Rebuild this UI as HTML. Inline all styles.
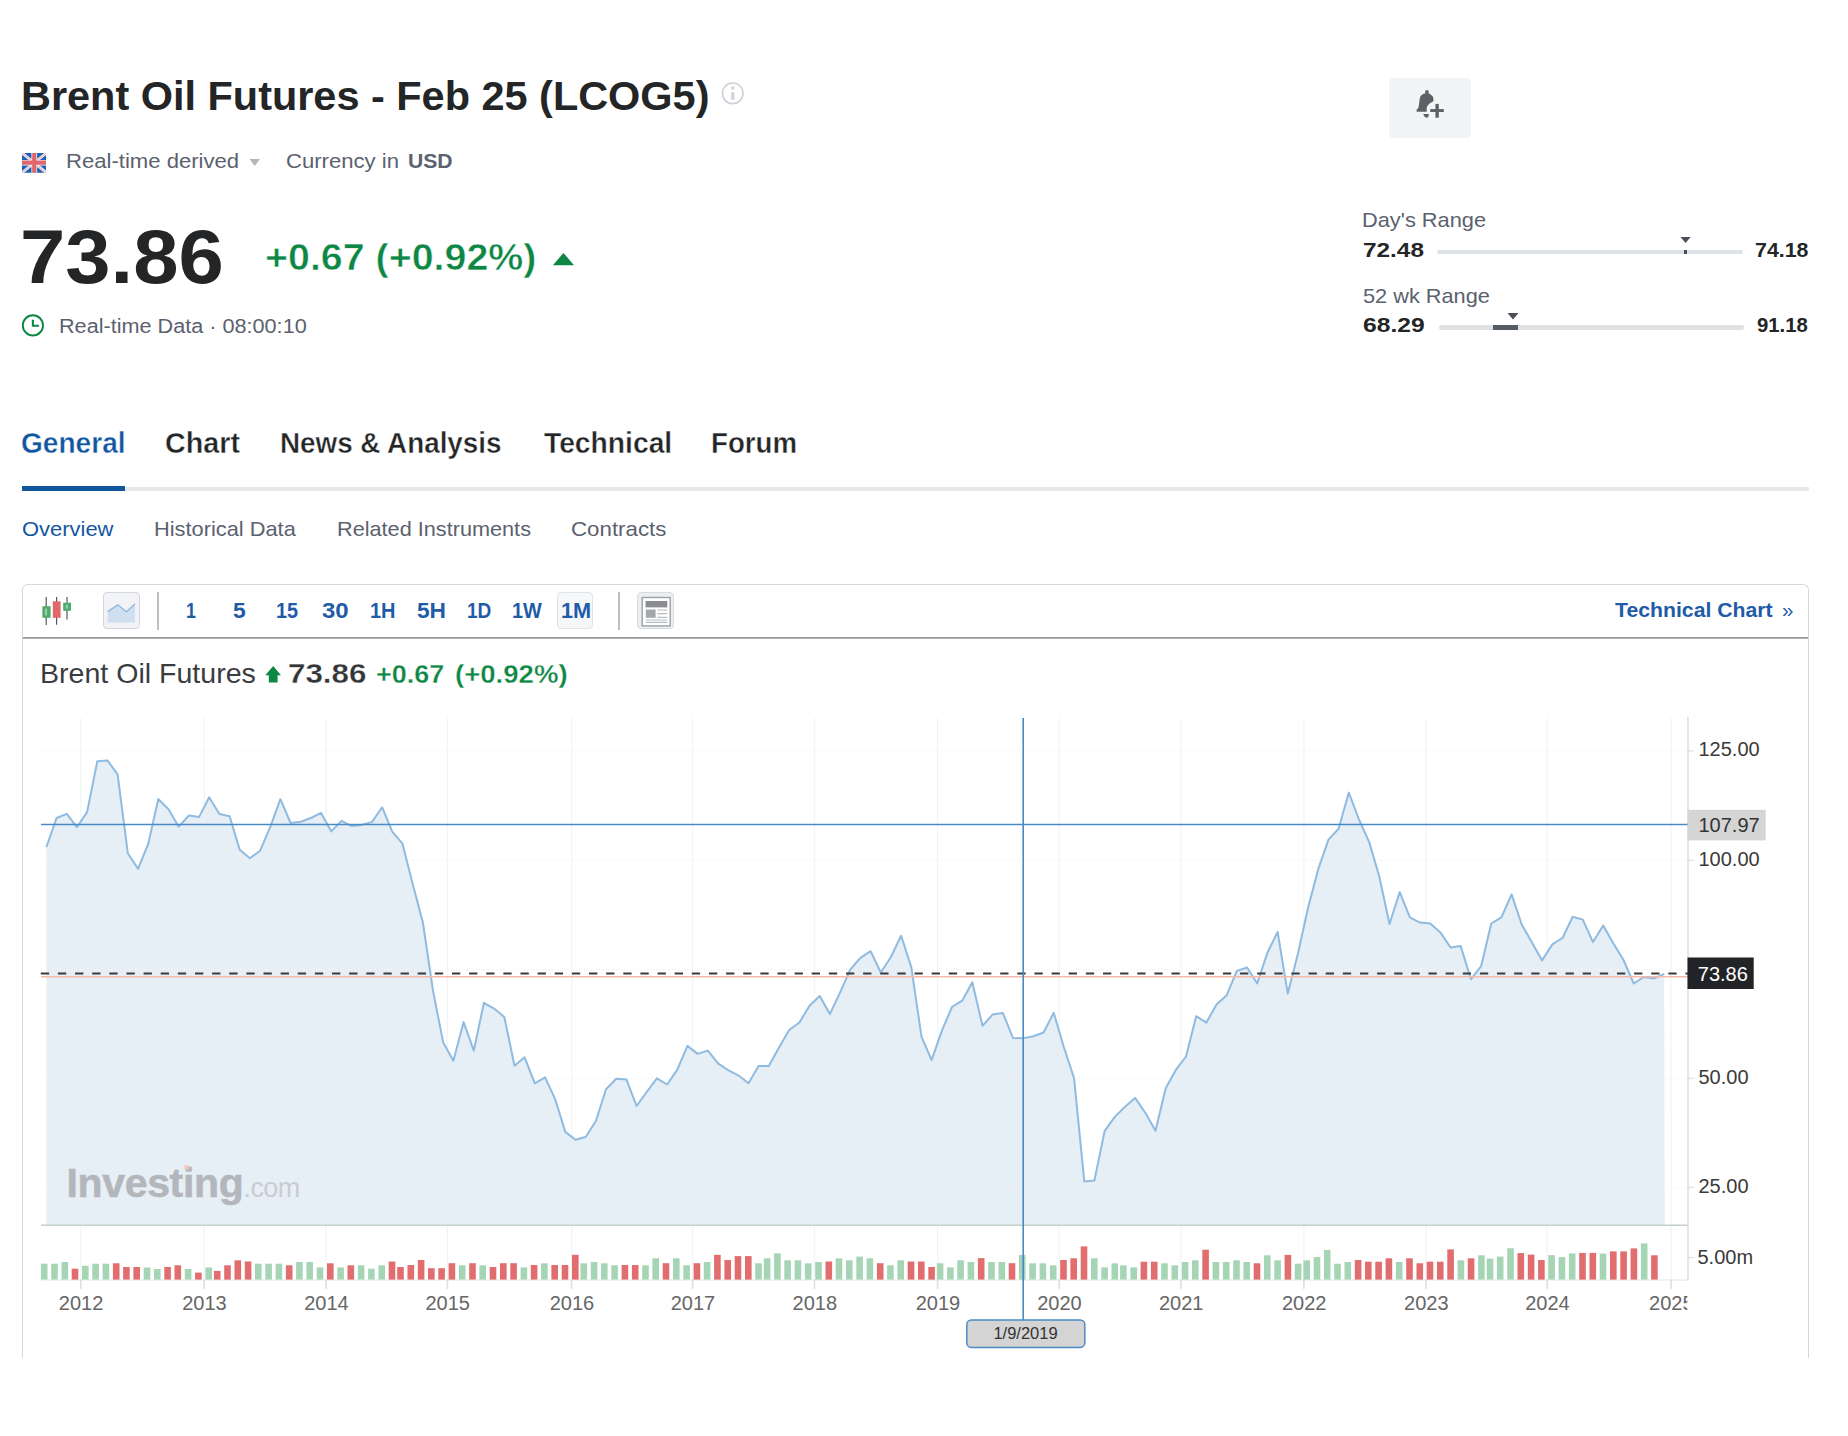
<!DOCTYPE html>
<html><head><meta charset="utf-8"><title>Brent Oil Futures</title>
<style>
html,body{margin:0;padding:0;background:#fff}
body{width:1848px;height:1436px;position:relative;overflow:hidden;font-family:"Liberation Sans",sans-serif}
.t{position:absolute;white-space:nowrap;line-height:1;font-family:"Liberation Sans",sans-serif}
.a{position:absolute;display:block}
</style></head><body>
<svg id="ch" width="1848" height="1436" viewBox="0 0 1848 1436" style="position:absolute;left:0;top:0">
<polygon points="46.4,1225.3 46.4,847 56.6,818 66.8,813.8 76.9,827.2 87.1,812.1 97.3,761.3 107.5,760.4 117.6,774.4 127.8,853.2 138,868.8 148.2,844 158.3,799 168.5,809.3 178.7,826.7 188.9,815.5 199,817.1 209.2,797.3 219.4,814.1 229.6,816.3 239.7,849.8 249.9,858.2 260.1,850.7 270.2,827.2 280.4,799.2 290.6,823 300.8,821.8 310.9,818 321.1,812.9 331.3,831.4 341.5,820.9 351.6,826.1 361.8,824.9 372,821.9 382.2,807.3 392.4,831.9 402.5,843.7 412.7,883.9 422.9,922.5 433.1,991.2 443.2,1042.6 453.4,1060.7 463.6,1022.1 473.8,1050.6 483.9,1002.8 494.1,1008.6 504.3,1017 514.5,1065.7 524.6,1057.3 534.8,1083.3 545,1077.4 555.2,1099.2 565.3,1131.9 575.5,1139.8 585.7,1137 595.9,1121 606,1089.2 616.2,1078.8 626.4,1079.4 636.6,1106 646.7,1092 656.9,1078.3 667.1,1084.5 677.2,1069.9 687.4,1045.9 697.6,1053.9 707.8,1050.6 718,1063.4 728.1,1070.1 738.3,1075.3 748.5,1083.2 758.6,1066.1 768.8,1066.1 779,1047.6 789.2,1030 799.4,1022.5 809.5,1005.7 819.7,996 829.9,1014.1 840.1,992.3 850.2,969.6 860.4,957.9 870.6,951.2 880.8,972.5 890.9,957 901.1,935.7 911.3,967.1 921.5,1036.7 931.6,1060.2 941.8,1030.9 952,1007 962.2,1000.7 972.3,982.2 982.5,1025.8 992.7,1014.4 1002.9,1013 1013,1038 1023.2,1038.3 1033.4,1036.3 1043.6,1032.5 1053.7,1012.8 1063.9,1047.2 1074.1,1078.3 1084.3,1181.4 1094.4,1180.6 1104.6,1131.1 1114.8,1116.9 1125,1106.8 1135.1,1097.9 1145.3,1112.7 1155.5,1130.8 1165.7,1088.3 1175.8,1069.9 1186,1056.5 1196.2,1016.2 1206.4,1022.6 1216.5,1004.5 1226.7,995.2 1236.9,970.9 1247.1,967.5 1257.2,983.5 1267.4,952.8 1277.6,931.9 1287.8,993.6 1297.9,953.7 1308.1,907.5 1318.3,868.9 1328.5,839.6 1338.6,828.7 1348.8,792.6 1359,819.5 1369.2,842.1 1379.3,876.5 1389.5,924 1399.7,892.1 1409.9,917.3 1420,922.6 1430.2,923.5 1440.4,932.4 1450.6,947.5 1460.7,946.1 1470.9,979.3 1481.1,966.2 1491.3,923.5 1501.4,917.3 1511.6,894.4 1521.8,924.8 1532,942.5 1542.1,960.4 1552.3,944.4 1562.5,938 1572.7,916.8 1582.8,919.6 1593,942.1 1603.2,925.5 1613.4,943.5 1623.5,960 1633.7,983.5 1643.9,977 1654.1,978.4 1664.2,973.8 1664.7,1225.3" fill="rgba(70,130,190,0.135)"/>
<line x1="80.8" y1="718.0" x2="80.8" y2="1279.6" stroke="rgba(236,240,240,0.75)" stroke-width="1.2"/>
<line x1="204.2" y1="718.0" x2="204.2" y2="1279.6" stroke="rgba(236,240,240,0.75)" stroke-width="1.2"/>
<line x1="326.1" y1="718.0" x2="326.1" y2="1279.6" stroke="rgba(236,240,240,0.75)" stroke-width="1.2"/>
<line x1="447.4" y1="718.0" x2="447.4" y2="1279.6" stroke="rgba(236,240,240,0.75)" stroke-width="1.2"/>
<line x1="571.6" y1="718.0" x2="571.6" y2="1279.6" stroke="rgba(236,240,240,0.75)" stroke-width="1.2"/>
<line x1="692.6" y1="718.0" x2="692.6" y2="1279.6" stroke="rgba(236,240,240,0.75)" stroke-width="1.2"/>
<line x1="814.5" y1="718.0" x2="814.5" y2="1279.6" stroke="rgba(236,240,240,0.75)" stroke-width="1.2"/>
<line x1="937.6" y1="718.0" x2="937.6" y2="1279.6" stroke="rgba(236,240,240,0.75)" stroke-width="1.2"/>
<line x1="1059.2" y1="718.0" x2="1059.2" y2="1279.6" stroke="rgba(236,240,240,0.75)" stroke-width="1.2"/>
<line x1="1180.9" y1="718.0" x2="1180.9" y2="1279.6" stroke="rgba(236,240,240,0.75)" stroke-width="1.2"/>
<line x1="1303.9" y1="718.0" x2="1303.9" y2="1279.6" stroke="rgba(236,240,240,0.75)" stroke-width="1.2"/>
<line x1="1426.0" y1="718.0" x2="1426.0" y2="1279.6" stroke="rgba(236,240,240,0.75)" stroke-width="1.2"/>
<line x1="1547.2" y1="718.0" x2="1547.2" y2="1279.6" stroke="rgba(236,240,240,0.75)" stroke-width="1.2"/>
<line x1="1671.0" y1="718.0" x2="1671.0" y2="1279.6" stroke="rgba(236,240,240,0.75)" stroke-width="1.2"/>
<line x1="41.0" y1="750.9" x2="1688.0" y2="750.9" stroke="rgba(240,242,244,0.8)" stroke-width="1" stroke-dasharray="1.500 1"/>
<line x1="1688.0" y1="750.9" x2="1694.0" y2="750.9" stroke="#dadde0" stroke-width="1"/>
<line x1="41.0" y1="860.3" x2="1688.0" y2="860.3" stroke="rgba(240,242,244,0.8)" stroke-width="1" stroke-dasharray="1.500 1"/>
<line x1="1688.0" y1="860.3" x2="1694.0" y2="860.3" stroke="#dadde0" stroke-width="1"/>
<line x1="41.0" y1="969.6" x2="1688.0" y2="969.6" stroke="rgba(240,242,244,0.8)" stroke-width="1" stroke-dasharray="1.500 1"/>
<line x1="1688.0" y1="969.6" x2="1694.0" y2="969.6" stroke="#dadde0" stroke-width="1"/>
<line x1="41.0" y1="1078.3" x2="1688.0" y2="1078.3" stroke="rgba(240,242,244,0.8)" stroke-width="1" stroke-dasharray="1.500 1"/>
<line x1="1688.0" y1="1078.3" x2="1694.0" y2="1078.3" stroke="#dadde0" stroke-width="1"/>
<line x1="41.0" y1="1187.4" x2="1688.0" y2="1187.4" stroke="rgba(240,242,244,0.8)" stroke-width="1" stroke-dasharray="1.500 1"/>
<line x1="1688.0" y1="1187.4" x2="1694.0" y2="1187.4" stroke="#dadde0" stroke-width="1"/>
<polyline points="46.4,847 56.6,818 66.8,813.8 76.9,827.2 87.1,812.1 97.3,761.3 107.5,760.4 117.6,774.4 127.8,853.2 138,868.8 148.2,844 158.3,799 168.5,809.3 178.7,826.7 188.9,815.5 199,817.1 209.2,797.3 219.4,814.1 229.6,816.3 239.7,849.8 249.9,858.2 260.1,850.7 270.2,827.2 280.4,799.2 290.6,823 300.8,821.8 310.9,818 321.1,812.9 331.3,831.4 341.5,820.9 351.6,826.1 361.8,824.9 372,821.9 382.2,807.3 392.4,831.9 402.5,843.7 412.7,883.9 422.9,922.5 433.1,991.2 443.2,1042.6 453.4,1060.7 463.6,1022.1 473.8,1050.6 483.9,1002.8 494.1,1008.6 504.3,1017 514.5,1065.7 524.6,1057.3 534.8,1083.3 545,1077.4 555.2,1099.2 565.3,1131.9 575.5,1139.8 585.7,1137 595.9,1121 606,1089.2 616.2,1078.8 626.4,1079.4 636.6,1106 646.7,1092 656.9,1078.3 667.1,1084.5 677.2,1069.9 687.4,1045.9 697.6,1053.9 707.8,1050.6 718,1063.4 728.1,1070.1 738.3,1075.3 748.5,1083.2 758.6,1066.1 768.8,1066.1 779,1047.6 789.2,1030 799.4,1022.5 809.5,1005.7 819.7,996 829.9,1014.1 840.1,992.3 850.2,969.6 860.4,957.9 870.6,951.2 880.8,972.5 890.9,957 901.1,935.7 911.3,967.1 921.5,1036.7 931.6,1060.2 941.8,1030.9 952,1007 962.2,1000.7 972.3,982.2 982.5,1025.8 992.7,1014.4 1002.9,1013 1013,1038 1023.2,1038.3 1033.4,1036.3 1043.6,1032.5 1053.7,1012.8 1063.9,1047.2 1074.1,1078.3 1084.3,1181.4 1094.4,1180.6 1104.6,1131.1 1114.8,1116.9 1125,1106.8 1135.1,1097.9 1145.3,1112.7 1155.5,1130.8 1165.7,1088.3 1175.8,1069.9 1186,1056.5 1196.2,1016.2 1206.4,1022.6 1216.5,1004.5 1226.7,995.2 1236.9,970.9 1247.1,967.5 1257.2,983.5 1267.4,952.8 1277.6,931.9 1287.8,993.6 1297.9,953.7 1308.1,907.5 1318.3,868.9 1328.5,839.6 1338.6,828.7 1348.8,792.6 1359,819.5 1369.2,842.1 1379.3,876.5 1389.5,924 1399.7,892.1 1409.9,917.3 1420,922.6 1430.2,923.5 1440.4,932.4 1450.6,947.5 1460.7,946.1 1470.9,979.3 1481.1,966.2 1491.3,923.5 1501.4,917.3 1511.6,894.4 1521.8,924.8 1532,942.5 1542.1,960.4 1552.3,944.4 1562.5,938 1572.7,916.8 1582.8,919.6 1593,942.1 1603.2,925.5 1613.4,943.5 1623.5,960 1633.7,983.5 1643.9,977 1654.1,978.4 1664.2,973.8" fill="none" stroke="#8fbbe0" stroke-width="2" stroke-linejoin="round"/>
<line x1="41.0" y1="1225.3" x2="1688.0" y2="1225.3" stroke="#c3d0cc" stroke-width="1.6"/>
<line x1="41.0" y1="1280.0" x2="1688.0" y2="1280.0" stroke="#e3e5e8" stroke-width="1.2"/>
<line x1="1688.0" y1="717.0" x2="1688.0" y2="1280.6" stroke="#d5d8dc" stroke-width="1.3"/>
<line x1="80.8" y1="1279.6" x2="80.8" y2="1289.1" stroke="#dcdfe3" stroke-width="1.6"/>
<line x1="204.2" y1="1279.6" x2="204.2" y2="1289.1" stroke="#dcdfe3" stroke-width="1.6"/>
<line x1="326.1" y1="1279.6" x2="326.1" y2="1289.1" stroke="#dcdfe3" stroke-width="1.6"/>
<line x1="447.4" y1="1279.6" x2="447.4" y2="1289.1" stroke="#dcdfe3" stroke-width="1.6"/>
<line x1="571.6" y1="1279.6" x2="571.6" y2="1289.1" stroke="#dcdfe3" stroke-width="1.6"/>
<line x1="692.6" y1="1279.6" x2="692.6" y2="1289.1" stroke="#dcdfe3" stroke-width="1.6"/>
<line x1="814.5" y1="1279.6" x2="814.5" y2="1289.1" stroke="#dcdfe3" stroke-width="1.6"/>
<line x1="937.6" y1="1279.6" x2="937.6" y2="1289.1" stroke="#dcdfe3" stroke-width="1.6"/>
<line x1="1059.2" y1="1279.6" x2="1059.2" y2="1289.1" stroke="#dcdfe3" stroke-width="1.6"/>
<line x1="1180.9" y1="1279.6" x2="1180.9" y2="1289.1" stroke="#dcdfe3" stroke-width="1.6"/>
<line x1="1303.9" y1="1279.6" x2="1303.9" y2="1289.1" stroke="#dcdfe3" stroke-width="1.6"/>
<line x1="1426.0" y1="1279.6" x2="1426.0" y2="1289.1" stroke="#dcdfe3" stroke-width="1.6"/>
<line x1="1547.2" y1="1279.6" x2="1547.2" y2="1289.1" stroke="#dcdfe3" stroke-width="1.6"/>
<line x1="1671.0" y1="1279.6" x2="1671.0" y2="1289.1" stroke="#dcdfe3" stroke-width="1.6"/>
<line x1="1688.0" y1="1257.7" x2="1694.0" y2="1257.7" stroke="#d8dbde" stroke-width="1"/>
<rect x="40.9" y="1263.7" width="6.6" height="15.9" fill="#a6d5b6"/>
<rect x="51.2" y="1263.7" width="6.6" height="15.9" fill="#a6d5b6"/>
<rect x="61.5" y="1262" width="6.6" height="17.6" fill="#a6d5b6"/>
<rect x="71.7" y="1268.7" width="6.6" height="10.9" fill="#e16d6f"/>
<rect x="82" y="1265.8" width="6.6" height="13.8" fill="#a6d5b6"/>
<rect x="92.3" y="1263.7" width="6.6" height="15.9" fill="#a6d5b6"/>
<rect x="102.6" y="1263.7" width="6.6" height="15.9" fill="#a6d5b6"/>
<rect x="112.9" y="1263.3" width="6.6" height="16.3" fill="#e16d6f"/>
<rect x="123.1" y="1267" width="6.6" height="12.6" fill="#e16d6f"/>
<rect x="133.4" y="1267" width="6.6" height="12.6" fill="#e16d6f"/>
<rect x="143.7" y="1267.5" width="6.6" height="12.1" fill="#a6d5b6"/>
<rect x="154" y="1269" width="6.6" height="10.6" fill="#a6d5b6"/>
<rect x="164.3" y="1267" width="6.6" height="12.6" fill="#e16d6f"/>
<rect x="174.5" y="1265.3" width="6.6" height="14.3" fill="#e16d6f"/>
<rect x="184.8" y="1269" width="6.6" height="10.6" fill="#a6d5b6"/>
<rect x="195.1" y="1272.6" width="6.6" height="7" fill="#e16d6f"/>
<rect x="205.4" y="1267.5" width="6.6" height="12.1" fill="#a6d5b6"/>
<rect x="213.9" y="1270.9" width="6.6" height="8.7" fill="#e16d6f"/>
<rect x="224.2" y="1265.3" width="6.6" height="14.3" fill="#e16d6f"/>
<rect x="234.5" y="1260.3" width="6.6" height="19.3" fill="#e16d6f"/>
<rect x="244.8" y="1261.5" width="6.6" height="18.1" fill="#e16d6f"/>
<rect x="255" y="1263.7" width="6.6" height="15.9" fill="#a6d5b6"/>
<rect x="265.3" y="1263.7" width="6.6" height="15.9" fill="#a6d5b6"/>
<rect x="275.6" y="1263.7" width="6.6" height="15.9" fill="#a6d5b6"/>
<rect x="285.9" y="1265.3" width="6.6" height="14.3" fill="#e16d6f"/>
<rect x="296.1" y="1262" width="6.6" height="17.6" fill="#a6d5b6"/>
<rect x="306.4" y="1262" width="6.6" height="17.6" fill="#a6d5b6"/>
<rect x="316.7" y="1267.4" width="6.6" height="12.2" fill="#a6d5b6"/>
<rect x="327" y="1263.3" width="6.6" height="16.3" fill="#e16d6f"/>
<rect x="337.3" y="1267.4" width="6.6" height="12.2" fill="#a6d5b6"/>
<rect x="347.5" y="1265.3" width="6.6" height="14.3" fill="#e16d6f"/>
<rect x="357.8" y="1265.3" width="6.6" height="14.3" fill="#a6d5b6"/>
<rect x="368.1" y="1268.7" width="6.6" height="10.9" fill="#a6d5b6"/>
<rect x="378.4" y="1265.3" width="6.6" height="14.3" fill="#a6d5b6"/>
<rect x="388.7" y="1261.5" width="6.6" height="18.1" fill="#e16d6f"/>
<rect x="397.2" y="1267" width="6.6" height="12.6" fill="#e16d6f"/>
<rect x="407.5" y="1265" width="6.6" height="14.6" fill="#e16d6f"/>
<rect x="417.8" y="1260" width="6.6" height="19.6" fill="#e16d6f"/>
<rect x="428" y="1268.2" width="6.6" height="11.4" fill="#e16d6f"/>
<rect x="438.3" y="1268.2" width="6.6" height="11.4" fill="#e16d6f"/>
<rect x="448.6" y="1263.2" width="6.6" height="16.4" fill="#e16d6f"/>
<rect x="458.9" y="1265.3" width="6.6" height="14.3" fill="#a6d5b6"/>
<rect x="469.2" y="1263.2" width="6.6" height="16.4" fill="#e16d6f"/>
<rect x="479.4" y="1265.3" width="6.6" height="14.3" fill="#a6d5b6"/>
<rect x="489.7" y="1267" width="6.6" height="12.6" fill="#e16d6f"/>
<rect x="500" y="1263.2" width="6.6" height="16.4" fill="#e16d6f"/>
<rect x="510.3" y="1263.2" width="6.6" height="16.4" fill="#e16d6f"/>
<rect x="520.6" y="1267.4" width="6.6" height="12.2" fill="#a6d5b6"/>
<rect x="530.8" y="1265" width="6.6" height="14.6" fill="#e16d6f"/>
<rect x="541.1" y="1263.3" width="6.6" height="16.3" fill="#a6d5b6"/>
<rect x="551.4" y="1265" width="6.6" height="14.6" fill="#e16d6f"/>
<rect x="561.7" y="1265" width="6.6" height="14.6" fill="#e16d6f"/>
<rect x="572" y="1254.8" width="6.6" height="24.8" fill="#e16d6f"/>
<rect x="580.5" y="1263.3" width="6.6" height="16.3" fill="#a6d5b6"/>
<rect x="590.8" y="1262" width="6.6" height="17.6" fill="#a6d5b6"/>
<rect x="601" y="1263.3" width="6.6" height="16.3" fill="#a6d5b6"/>
<rect x="611.3" y="1265.3" width="6.6" height="14.3" fill="#a6d5b6"/>
<rect x="621.6" y="1265" width="6.6" height="14.6" fill="#e16d6f"/>
<rect x="631.9" y="1265" width="6.6" height="14.6" fill="#e16d6f"/>
<rect x="642.2" y="1265.3" width="6.6" height="14.3" fill="#a6d5b6"/>
<rect x="652.4" y="1258.3" width="6.6" height="21.3" fill="#a6d5b6"/>
<rect x="662.7" y="1263.2" width="6.6" height="16.4" fill="#e16d6f"/>
<rect x="673" y="1258.3" width="6.6" height="21.3" fill="#a6d5b6"/>
<rect x="683.3" y="1265.3" width="6.6" height="14.3" fill="#a6d5b6"/>
<rect x="693.6" y="1263.2" width="6.6" height="16.4" fill="#e16d6f"/>
<rect x="703.8" y="1262" width="6.6" height="17.6" fill="#a6d5b6"/>
<rect x="714.1" y="1254.8" width="6.6" height="24.8" fill="#e16d6f"/>
<rect x="724.4" y="1260" width="6.6" height="19.6" fill="#e16d6f"/>
<rect x="734.7" y="1256.1" width="6.6" height="23.5" fill="#e16d6f"/>
<rect x="745" y="1256.1" width="6.6" height="23.5" fill="#e16d6f"/>
<rect x="755.2" y="1263.3" width="6.6" height="16.3" fill="#a6d5b6"/>
<rect x="763.8" y="1258.3" width="6.6" height="21.3" fill="#a6d5b6"/>
<rect x="774.1" y="1253.3" width="6.6" height="26.3" fill="#a6d5b6"/>
<rect x="784.3" y="1260.3" width="6.6" height="19.3" fill="#a6d5b6"/>
<rect x="794.6" y="1260.3" width="6.6" height="19.3" fill="#a6d5b6"/>
<rect x="804.9" y="1263.3" width="6.6" height="16.3" fill="#a6d5b6"/>
<rect x="815.2" y="1262" width="6.6" height="17.6" fill="#a6d5b6"/>
<rect x="825.5" y="1261.5" width="6.6" height="18.1" fill="#e16d6f"/>
<rect x="835.7" y="1258.3" width="6.6" height="21.3" fill="#a6d5b6"/>
<rect x="846" y="1260.3" width="6.6" height="19.3" fill="#a6d5b6"/>
<rect x="856.3" y="1256.6" width="6.6" height="23" fill="#a6d5b6"/>
<rect x="866.6" y="1258.3" width="6.6" height="21.3" fill="#a6d5b6"/>
<rect x="876.9" y="1263.2" width="6.6" height="16.4" fill="#e16d6f"/>
<rect x="887.1" y="1265.3" width="6.6" height="14.3" fill="#a6d5b6"/>
<rect x="897.4" y="1260.3" width="6.6" height="19.3" fill="#a6d5b6"/>
<rect x="907.7" y="1261.5" width="6.6" height="18.1" fill="#e16d6f"/>
<rect x="918" y="1261.5" width="6.6" height="18.1" fill="#e16d6f"/>
<rect x="928.3" y="1267" width="6.6" height="12.6" fill="#e16d6f"/>
<rect x="936.8" y="1263.3" width="6.6" height="16.3" fill="#a6d5b6"/>
<rect x="947.1" y="1267.4" width="6.6" height="12.2" fill="#a6d5b6"/>
<rect x="957.3" y="1260.3" width="6.6" height="19.3" fill="#a6d5b6"/>
<rect x="967.6" y="1262" width="6.6" height="17.6" fill="#a6d5b6"/>
<rect x="977.9" y="1258.1" width="6.6" height="21.5" fill="#e16d6f"/>
<rect x="988.2" y="1262" width="6.6" height="17.6" fill="#a6d5b6"/>
<rect x="998.5" y="1262" width="6.6" height="17.6" fill="#a6d5b6"/>
<rect x="1008.7" y="1263.2" width="6.6" height="16.4" fill="#e16d6f"/>
<rect x="1019" y="1254.9" width="6.6" height="24.7" fill="#a6d5b6"/>
<rect x="1029.3" y="1263.3" width="6.6" height="16.3" fill="#a6d5b6"/>
<rect x="1039.6" y="1263.3" width="6.6" height="16.3" fill="#a6d5b6"/>
<rect x="1049.9" y="1265.3" width="6.6" height="14.3" fill="#a6d5b6"/>
<rect x="1060.2" y="1260" width="6.6" height="19.6" fill="#e16d6f"/>
<rect x="1070.4" y="1258.3" width="6.6" height="21.3" fill="#e16d6f"/>
<rect x="1080.7" y="1246.4" width="6.6" height="33.2" fill="#e16d6f"/>
<rect x="1091" y="1258.3" width="6.6" height="21.3" fill="#a6d5b6"/>
<rect x="1101.3" y="1267.4" width="6.6" height="12.2" fill="#a6d5b6"/>
<rect x="1111.5" y="1263.3" width="6.6" height="16.3" fill="#a6d5b6"/>
<rect x="1120.1" y="1265.3" width="6.6" height="14.3" fill="#a6d5b6"/>
<rect x="1130.4" y="1267.4" width="6.6" height="12.2" fill="#a6d5b6"/>
<rect x="1140.6" y="1261.7" width="6.6" height="17.9" fill="#e16d6f"/>
<rect x="1150.9" y="1261.7" width="6.6" height="17.9" fill="#e16d6f"/>
<rect x="1161.2" y="1263.3" width="6.6" height="16.3" fill="#a6d5b6"/>
<rect x="1171.5" y="1265.3" width="6.6" height="14.3" fill="#a6d5b6"/>
<rect x="1181.8" y="1262" width="6.6" height="17.6" fill="#a6d5b6"/>
<rect x="1192" y="1260.3" width="6.6" height="19.3" fill="#a6d5b6"/>
<rect x="1202.3" y="1249.7" width="6.6" height="29.9" fill="#e16d6f"/>
<rect x="1212.6" y="1262" width="6.6" height="17.6" fill="#a6d5b6"/>
<rect x="1222.9" y="1262" width="6.6" height="17.6" fill="#a6d5b6"/>
<rect x="1233.2" y="1260.3" width="6.6" height="19.3" fill="#a6d5b6"/>
<rect x="1243.4" y="1262" width="6.6" height="17.6" fill="#a6d5b6"/>
<rect x="1253.7" y="1263.3" width="6.6" height="16.3" fill="#e16d6f"/>
<rect x="1264" y="1255.3" width="6.6" height="24.3" fill="#a6d5b6"/>
<rect x="1274.3" y="1260.3" width="6.6" height="19.3" fill="#a6d5b6"/>
<rect x="1284.6" y="1254.9" width="6.6" height="24.7" fill="#e16d6f"/>
<rect x="1294.8" y="1263.7" width="6.6" height="15.9" fill="#a6d5b6"/>
<rect x="1303.4" y="1260.3" width="6.6" height="19.3" fill="#a6d5b6"/>
<rect x="1313.7" y="1257" width="6.6" height="22.6" fill="#a6d5b6"/>
<rect x="1323.9" y="1249.9" width="6.6" height="29.7" fill="#a6d5b6"/>
<rect x="1334.2" y="1263.7" width="6.6" height="15.9" fill="#a6d5b6"/>
<rect x="1344.5" y="1262" width="6.6" height="17.6" fill="#a6d5b6"/>
<rect x="1354.8" y="1260" width="6.6" height="19.6" fill="#e16d6f"/>
<rect x="1365" y="1261.7" width="6.6" height="17.9" fill="#e16d6f"/>
<rect x="1375.3" y="1261.7" width="6.6" height="17.9" fill="#e16d6f"/>
<rect x="1385.6" y="1258.3" width="6.6" height="21.3" fill="#e16d6f"/>
<rect x="1395.9" y="1262" width="6.6" height="17.6" fill="#a6d5b6"/>
<rect x="1406.2" y="1258.3" width="6.6" height="21.3" fill="#e16d6f"/>
<rect x="1416.5" y="1263.3" width="6.6" height="16.3" fill="#e16d6f"/>
<rect x="1426.7" y="1261.7" width="6.6" height="17.9" fill="#e16d6f"/>
<rect x="1437" y="1261.7" width="6.6" height="17.9" fill="#e16d6f"/>
<rect x="1447.3" y="1249.4" width="6.6" height="30.2" fill="#e16d6f"/>
<rect x="1457.6" y="1260.3" width="6.6" height="19.3" fill="#a6d5b6"/>
<rect x="1467.8" y="1258.3" width="6.6" height="21.3" fill="#e16d6f"/>
<rect x="1478.1" y="1255.3" width="6.6" height="24.3" fill="#a6d5b6"/>
<rect x="1486.7" y="1258.6" width="6.6" height="21" fill="#a6d5b6"/>
<rect x="1496.9" y="1256.6" width="6.6" height="23" fill="#a6d5b6"/>
<rect x="1507.2" y="1248.2" width="6.6" height="31.4" fill="#a6d5b6"/>
<rect x="1517.5" y="1253.1" width="6.6" height="26.5" fill="#e16d6f"/>
<rect x="1527.8" y="1254.6" width="6.6" height="25" fill="#e16d6f"/>
<rect x="1538.1" y="1260" width="6.6" height="19.6" fill="#e16d6f"/>
<rect x="1548.3" y="1255.1" width="6.6" height="24.5" fill="#a6d5b6"/>
<rect x="1558.6" y="1257.1" width="6.6" height="22.5" fill="#a6d5b6"/>
<rect x="1568.9" y="1253.4" width="6.6" height="26.2" fill="#a6d5b6"/>
<rect x="1579.2" y="1252.9" width="6.6" height="26.7" fill="#e16d6f"/>
<rect x="1589.5" y="1252.9" width="6.6" height="26.7" fill="#e16d6f"/>
<rect x="1599.7" y="1253.6" width="6.6" height="26" fill="#a6d5b6"/>
<rect x="1610" y="1251.4" width="6.6" height="28.2" fill="#e16d6f"/>
<rect x="1620.3" y="1251.4" width="6.6" height="28.2" fill="#e16d6f"/>
<rect x="1630.6" y="1248.4" width="6.6" height="31.2" fill="#e16d6f"/>
<rect x="1640.9" y="1243.4" width="6.6" height="36.2" fill="#a6d5b6"/>
<rect x="1651.1" y="1255.3" width="6.6" height="24.3" fill="#e16d6f"/>
<line x1="41.0" y1="976.8" x2="1688.0" y2="976.8" stroke="#f5b9aa" stroke-width="1.6"/>
<line x1="40.8" y1="973.5" x2="1688.0" y2="973.5" stroke="#3a3a3a" stroke-width="1.8" stroke-dasharray="8.3 8.832"/>
<line x1="41.0" y1="824.4" x2="1688.0" y2="824.4" stroke="#4a8ac4" stroke-width="1.5"/>
<line x1="1023.2" y1="718.0" x2="1023.2" y2="1320" stroke="#4a8ac4" stroke-width="1.6"/>
<rect x="1687.5" y="809.8" width="78.2" height="30.6" fill="#d5d5d5"/>
<rect x="1687.5" y="957.5" width="66.2" height="31.5" fill="#222326"/>
<rect x="966.8" y="1320" width="118" height="27.4" rx="4.5" fill="#d4d4d4" stroke="#4a8ac4" stroke-width="1.5"/>
<text x="1698.5" y="756.4" font-family="Liberation Sans, sans-serif" font-size="20" fill="#3a3a3a">125.00</text>
<text x="1698.5" y="865.8" font-family="Liberation Sans, sans-serif" font-size="20" fill="#3a3a3a">100.00</text>
<text x="1698.5" y="1083.8" font-family="Liberation Sans, sans-serif" font-size="20" fill="#3a3a3a">50.00</text>
<text x="1698.5" y="1192.9" font-family="Liberation Sans, sans-serif" font-size="20" fill="#3a3a3a">25.00</text>
<text x="1698.5" y="831.6" font-family="Liberation Sans, sans-serif" font-size="20" fill="#333">107.97</text>
<text x="1697.8" y="980.8" font-family="Liberation Sans, sans-serif" font-size="20" fill="#fff">73.86</text>
<text x="1697.5" y="1264.3" font-family="Liberation Sans, sans-serif" font-size="20" fill="#3a3a3a">5.00m</text>
<text x="1025.5" y="1339.3" font-family="Liberation Sans, sans-serif" font-size="16.5" fill="#333" text-anchor="middle">1/9/2019</text>
<clipPath id="cp"><rect x="0" y="1288" width="1687.4" height="40"/></clipPath>
<g clip-path="url(#cp)">
<text x="81.1" y="1310.2" font-family="Liberation Sans, sans-serif" font-size="20" fill="#666" text-anchor="middle">2012</text>
<text x="204.5" y="1310.2" font-family="Liberation Sans, sans-serif" font-size="20" fill="#666" text-anchor="middle">2013</text>
<text x="326.4" y="1310.2" font-family="Liberation Sans, sans-serif" font-size="20" fill="#666" text-anchor="middle">2014</text>
<text x="447.7" y="1310.2" font-family="Liberation Sans, sans-serif" font-size="20" fill="#666" text-anchor="middle">2015</text>
<text x="571.9" y="1310.2" font-family="Liberation Sans, sans-serif" font-size="20" fill="#666" text-anchor="middle">2016</text>
<text x="692.9" y="1310.2" font-family="Liberation Sans, sans-serif" font-size="20" fill="#666" text-anchor="middle">2017</text>
<text x="814.8" y="1310.2" font-family="Liberation Sans, sans-serif" font-size="20" fill="#666" text-anchor="middle">2018</text>
<text x="937.9" y="1310.2" font-family="Liberation Sans, sans-serif" font-size="20" fill="#666" text-anchor="middle">2019</text>
<text x="1059.5" y="1310.2" font-family="Liberation Sans, sans-serif" font-size="20" fill="#666" text-anchor="middle">2020</text>
<text x="1181.2" y="1310.2" font-family="Liberation Sans, sans-serif" font-size="20" fill="#666" text-anchor="middle">2021</text>
<text x="1304.2" y="1310.2" font-family="Liberation Sans, sans-serif" font-size="20" fill="#666" text-anchor="middle">2022</text>
<text x="1426.3" y="1310.2" font-family="Liberation Sans, sans-serif" font-size="20" fill="#666" text-anchor="middle">2023</text>
<text x="1547.5" y="1310.2" font-family="Liberation Sans, sans-serif" font-size="20" fill="#666" text-anchor="middle">2024</text>
<text x="1671.3" y="1310.2" font-family="Liberation Sans, sans-serif" font-size="20" fill="#666" text-anchor="middle">2025</text>
</g>
<text x="66.5" y="1197.2" font-family="Liberation Sans, sans-serif" font-size="41" font-weight="700" fill="#b3b6ba" letter-spacing="-0.35" stroke="#b3b6ba" stroke-width="0.5">Investing</text>
<text x="243.5" y="1197.2" font-family="Liberation Sans, sans-serif" font-size="27" fill="#c9ccd0" letter-spacing="-0.6">.com</text>
<rect x="184.600" y="1165.300" width="4.200" height="4.200" fill="#f3c3b6"/>
</svg>
<div class="t" style="left:21.06px;top:76.14px;font-size:40px;font-weight:700;color:#232526;transform:scaleX(1.0360);transform-origin:0 0;">Brent Oil Futures - Feb 25 (LCOG5)</div>
<svg class="a" style="left:720px;top:80px" width="26" height="27" viewBox="0 0 26 27"><circle cx="12.700" cy="13.300" r="10.300" fill="none" stroke="#cdd1d5" stroke-width="1.600"/><rect x="11.100" y="12.200" width="3.400" height="7.700" fill="#d2d4d7"/><rect x="11.100" y="6.500" width="3.400" height="3.200" fill="#d6d9dc"/></svg>
<div class="a" style="left:1389px;top:77.8px;width:82.4px;height:59.9px;background:#f3f4f6;border-radius:4px"></div>
<svg class="a" style="left:1400px;top:80px" width="60" height="46" viewBox="0 0 60 46"><g fill="#5d6166"><path d="M25.200 13.600V11.400Q25.200 9.900 26.950 9.900Q28.700 9.900 28.700 11.400V13.500Q30.600 14.100 32.800 16.500Q34.100 19.500 33.200 21.400Q31 22.300 29.500 23.600Q27.400 25.500 26.700 27.600V31.800H16.600V29.600Q18.300 28.700 18.600 27Q19.200 23 19.600 19.500Q20 15.800 22.300 14.600Q23.600 13.800 25.200 13.600z"/><path d="M23.200 34.100H28.700V36Q28.400 37.700 26.500 37.700Q24.200 37.400 23.200 34.100z"/><rect x="30.200" y="29.100" width="13.600" height="2.900"/><rect x="35.400" y="23.900" width="3.400" height="13.800"/></g></svg>
<svg class="a" style="left:21.600px;top:153.100px" width="24.400" height="19.700" viewBox="0 0 24 19.400" preserveAspectRatio="none"><rect width="24" height="19.400" rx="1.200" fill="#2160b7"/><path d="M0 0L24 19.400M24 0L0 19.400" stroke="#f3f3f6" stroke-width="2.700"/><path d="M0 0L24 19.400M24 0L0 19.400" stroke="#ee9a9c" stroke-width="0.900"/><path d="M12.100 0V19.400M0 9.600H24" stroke="#fbfbfc" stroke-width="5.600"/><path d="M12.100 0V19.400M0 9.600H24" stroke="#e0666d" stroke-width="4.200"/></svg>
<div class="t" style="left:65.73px;top:151.40px;font-size:20.5px;font-weight:400;color:#5b616e;transform:scaleX(1.0777);transform-origin:0 0;">Real-time derived</div>
<svg class="a" style="left:248px;top:157px" width="14" height="11" viewBox="0 0 14 11"><path d="M1.500 2H12L6.750 9z" fill="#b3b8be"/></svg>
<div class="t" style="left:285.89px;top:151.40px;font-size:20.5px;font-weight:400;color:#5b616e;transform:scaleX(1.0780);transform-origin:0 0;">Currency in</div>
<div class="t" style="left:408.23px;top:151.40px;font-size:20.5px;font-weight:700;color:#5b616e;transform:scaleX(1.0314);transform-origin:0 0;">USD</div>
<div class="t" style="left:20.34px;top:220.09px;font-size:75.5px;font-weight:700;color:#232526;transform:scaleX(1.0782);transform-origin:0 0;">73.86</div>
<div class="t" style="left:264.93px;top:239.53px;font-size:36px;font-weight:700;color:#0e8745;transform:scaleX(1.0936);transform-origin:0 0;-webkit-text-stroke:0.55px #fff;">+0.67 (+0.92%)</div>
<svg class="a" style="left:550px;top:250px" width="27" height="18" viewBox="0 0 27 18"><path d="M2.900 15.200H24L13.450 2.900z" fill="#0e8745"/></svg>
<svg class="a" style="left:20px;top:312px" width="27" height="27" viewBox="0 0 27 27"><circle cx="12.900" cy="13.400" r="10.100" fill="none" stroke="#0e8745" stroke-width="1.900"/><path d="M12.900 7.800v6h6" fill="none" stroke="#0e8745" stroke-width="2.100"/></svg>
<div class="t" style="left:58.57px;top:316.47px;font-size:20px;font-weight:400;color:#5b616e;transform:scaleX(1.0816);transform-origin:0 0;">Real-time Data · 08:00:10</div>
<div class="t" style="left:1362.06px;top:209.12px;font-size:21px;font-weight:400;color:#5b616e;transform:scaleX(1.0378);transform-origin:0 0;">Day's Range</div>
<div class="t" style="left:1362.83px;top:240.45px;font-size:20.5px;font-weight:700;color:#232526;transform:scaleX(1.1884);transform-origin:0 0;">72.48</div>
<div class="a" style="left:1437px;top:249.700px;width:305.500px;height:4.800px;background:#dfe2e5;border-radius:2px"></div>
<div class="a" style="left:1684px;top:249.700px;width:3px;height:4.800px;background:#4a4f57"></div>
<svg class="a" style="left:1679px;top:235.400px" width="14" height="10" viewBox="0 0 14 10"><path d="M1.500 2H11.600L6.550 7.900z" fill="#4a4f57"/></svg>
<div class="t" style="left:1754.95px;top:240.45px;font-size:20.5px;font-weight:700;color:#232526;transform:scaleX(1.0419);transform-origin:0 0;">74.18</div>
<div class="t" style="left:1362.93px;top:284.72px;font-size:21px;font-weight:400;color:#5b616e;transform:scaleX(1.0351);transform-origin:0 0;">52 wk Range</div>
<div class="t" style="left:1362.94px;top:315.45px;font-size:20.5px;font-weight:700;color:#232526;transform:scaleX(1.2024);transform-origin:0 0;">68.29</div>
<div class="a" style="left:1438.800px;top:324.900px;width:305.200px;height:4.800px;background:#dfe2e5;border-radius:2px"></div>
<div class="a" style="left:1493.400px;top:324.900px;width:24.600px;height:4.800px;background:#565b64"></div>
<svg class="a" style="left:1505.500px;top:311px" width="14" height="10" viewBox="0 0 14 10"><path d="M1.500 2H12.500L7 8.500z" fill="#4a4f57"/></svg>
<div class="t" style="left:1757.49px;top:315.45px;font-size:20.5px;font-weight:700;color:#232526;transform:scaleX(0.9916);transform-origin:0 0;">91.18</div>
<div class="t" style="left:21.38px;top:428.95px;font-size:29px;font-weight:700;color:#1256a0;transform:scaleX(0.9682);transform-origin:0 0;-webkit-text-stroke:0.4px #fff;">General</div>
<div class="t" style="left:165.35px;top:428.95px;font-size:29px;font-weight:700;color:#232526;transform:scaleX(0.9900);transform-origin:0 0;-webkit-text-stroke:0.4px #fff;">Chart</div>
<div class="t" style="left:279.69px;top:428.95px;font-size:29px;font-weight:700;color:#232526;transform:scaleX(0.9586);transform-origin:0 0;-webkit-text-stroke:0.4px #fff;">News &amp; Analysis</div>
<div class="t" style="left:543.72px;top:428.95px;font-size:29px;font-weight:700;color:#232526;transform:scaleX(0.9742);transform-origin:0 0;-webkit-text-stroke:0.4px #fff;">Technical</div>
<div class="t" style="left:710.70px;top:428.95px;font-size:29px;font-weight:700;color:#232526;transform:scaleX(0.9530);transform-origin:0 0;-webkit-text-stroke:0.4px #fff;">Forum</div>
<div class="a" style="left:22px;top:486.500px;width:1786.500px;height:4px;background:#e6e9eb"></div>
<div class="a" style="left:21.500px;top:486px;width:103px;height:5px;background:#1256a0"></div>
<div class="t" style="left:21.51px;top:517.82px;font-size:21px;font-weight:400;color:#1256a0;transform:scaleX(1.0447);transform-origin:0 0;">Overview</div>
<div class="t" style="left:154.26px;top:517.82px;font-size:21px;font-weight:400;color:#5b616e;transform:scaleX(1.0384);transform-origin:0 0;">Historical Data</div>
<div class="t" style="left:336.77px;top:517.82px;font-size:21px;font-weight:400;color:#5b616e;transform:scaleX(1.0322);transform-origin:0 0;">Related Instruments</div>
<div class="t" style="left:571.39px;top:517.82px;font-size:21px;font-weight:400;color:#5b616e;transform:scaleX(1.0614);transform-origin:0 0;">Contracts</div>
<div class="a" style="left:22px;top:584.300px;width:1785px;height:773px;border:1.300px solid #d5d9dc;border-bottom:none;border-radius:6px 6px 0 0"></div>
<div class="a" style="left:23px;top:636.600px;width:1785px;height:2px;background:linear-gradient(#8e9297,#b4b8bc)"></div>
<svg class="a" style="left:40px;top:594px" width="36" height="34" viewBox="0 0 36 34"><path d="M6.200 3V31M16.600 3V30.700M27 3V25.500" stroke="#50545a" stroke-width="1.150"/><rect x="2.400" y="12.200" width="8.200" height="11.600" fill="#4daa6d"/><rect x="4.900" y="14.500" width="2.200" height="7" fill="#8fd0a6"/><rect x="12.800" y="7.300" width="7.800" height="16.500" fill="#e2686b"/><rect x="23.200" y="8.700" width="7.800" height="8.100" fill="#4daa6d"/><rect x="25.800" y="10.700" width="2.200" height="4" fill="#8fd0a6"/></svg>
<div class="a" style="left:102.900px;top:592.100px;width:36.800px;height:37.400px;box-sizing:border-box;background:#f1f3f6;border:1.300px solid #d3d7db;border-radius:4px"></div>
<svg class="a" style="left:104px;top:596px" width="35" height="30" viewBox="0 0 35 30"><path d="M3.700 15.700L13.800 8.800L22.400 15.700L31.100 7.900V26.400H3.700z" fill="#d0dfef"/><path d="M3.700 15.700L13.800 8.800L22.400 15.700L31.100 7.900" fill="none" stroke="#8fb7e2" stroke-width="1.400"/></svg>
<div class="a" style="left:157.200px;top:592px;width:1.500px;height:37.500px;background:#bcc1c4"></div>
<div class="t" style="left:186.33px;top:599.75px;font-size:21.2px;font-weight:700;color:#1f5ba6;transform:scaleX(0.8430);transform-origin:0 0;">1</div>
<div class="t" style="left:233.42px;top:599.75px;font-size:21.2px;font-weight:700;color:#1f5ba6;transform:scaleX(1.0755);transform-origin:0 0;">5</div>
<div class="t" style="left:276.11px;top:599.75px;font-size:21.2px;font-weight:700;color:#1f5ba6;transform:scaleX(0.9342);transform-origin:0 0;">15</div>
<div class="t" style="left:322.32px;top:599.75px;font-size:21.2px;font-weight:700;color:#1f5ba6;transform:scaleX(1.1321);transform-origin:0 0;">30</div>
<div class="t" style="left:370.40px;top:599.75px;font-size:21.2px;font-weight:700;color:#1f5ba6;transform:scaleX(0.9434);transform-origin:0 0;">1H</div>
<div class="t" style="left:417.32px;top:599.75px;font-size:21.2px;font-weight:700;color:#1f5ba6;transform:scaleX(1.0713);transform-origin:0 0;">5H</div>
<div class="t" style="left:466.66px;top:599.75px;font-size:21.2px;font-weight:700;color:#1f5ba6;transform:scaleX(0.8992);transform-origin:0 0;">1D</div>
<div class="t" style="left:512.11px;top:599.75px;font-size:21.2px;font-weight:700;color:#1f5ba6;transform:scaleX(0.9368);transform-origin:0 0;">1W</div>
<div class="a" style="left:556.900px;top:592.200px;width:36.600px;height:37.300px;box-sizing:border-box;background:#f5f7f9;border:1.300px solid #e0e3e6;border-radius:4px"></div>
<div class="t" style="left:560.50px;top:599.75px;font-size:21.2px;font-weight:700;color:#1f5ba6;transform:scaleX(1.0258);transform-origin:0 0;">1M</div>
<div class="a" style="left:618.100px;top:592px;width:1.500px;height:37.500px;background:#bcc1c4"></div>
<div class="a" style="left:637.400px;top:592.200px;width:36.400px;height:37.300px;box-sizing:border-box;background:#eceef0;border:1.300px solid #d9dcdf;border-radius:4px"></div>
<svg class="a" style="left:640px;top:595px" width="32" height="33" viewBox="0 0 32 33"><rect x="2.200" y="2.500" width="28" height="28.400" fill="#fff" stroke="#9c9fa3" stroke-width="1.400"/><rect x="5.600" y="6" width="21.700" height="6.400" fill="#8b8d90"/><rect x="5.800" y="14.500" width="9.800" height="8.300" fill="#a4a6a9"/><path d="M17.300 15H27.300M17.300 18.700H27.300M17.300 22.300H27.300M5.800 25H27.300M5.800 27.300H27.300" stroke="#b9bcbf" stroke-width="1.200"/></svg>
<div class="t" style="left:1614.99px;top:600.45px;font-size:20.5px;font-weight:700;color:#1f5ba6;transform:scaleX(1.0356);transform-origin:0 0;">Technical Chart</div>
<div class="t" style="left:1781.98px;top:600.45px;font-size:20.5px;font-weight:400;color:#1f5ba6;letter-spacing:0.000px;">»</div>
<div class="t" style="left:39.92px;top:659.80px;font-size:28px;font-weight:400;color:#3a3c40;transform:scaleX(1.0199);transform-origin:0 0;">Brent Oil Futures</div>
<svg class="a" style="left:263px;top:663px" width="20" height="22" viewBox="0 0 20 22"><path d="M10.200 3L18 12.300H14.600V19.400H5.800V12.300H2.300z" fill="#0e8745"/></svg>
<div class="t" style="left:287.75px;top:659.80px;font-size:28px;font-weight:700;color:#333538;transform:scaleX(1.1193);transform-origin:0 0;-webkit-text-stroke:0.3px #fff;">73.86</div>
<div class="t" style="left:376.42px;top:661.91px;font-size:25.5px;font-weight:700;color:#0e8745;transform:scaleX(1.0564);transform-origin:0 0;-webkit-text-stroke:0.3px #fff;">+0.67</div>
<div class="t" style="left:454.62px;top:661.91px;font-size:25.5px;font-weight:700;color:#0e8745;transform:scaleX(1.0811);transform-origin:0 0;-webkit-text-stroke:0.3px #fff;">(+0.92%)</div>
</body></html>
